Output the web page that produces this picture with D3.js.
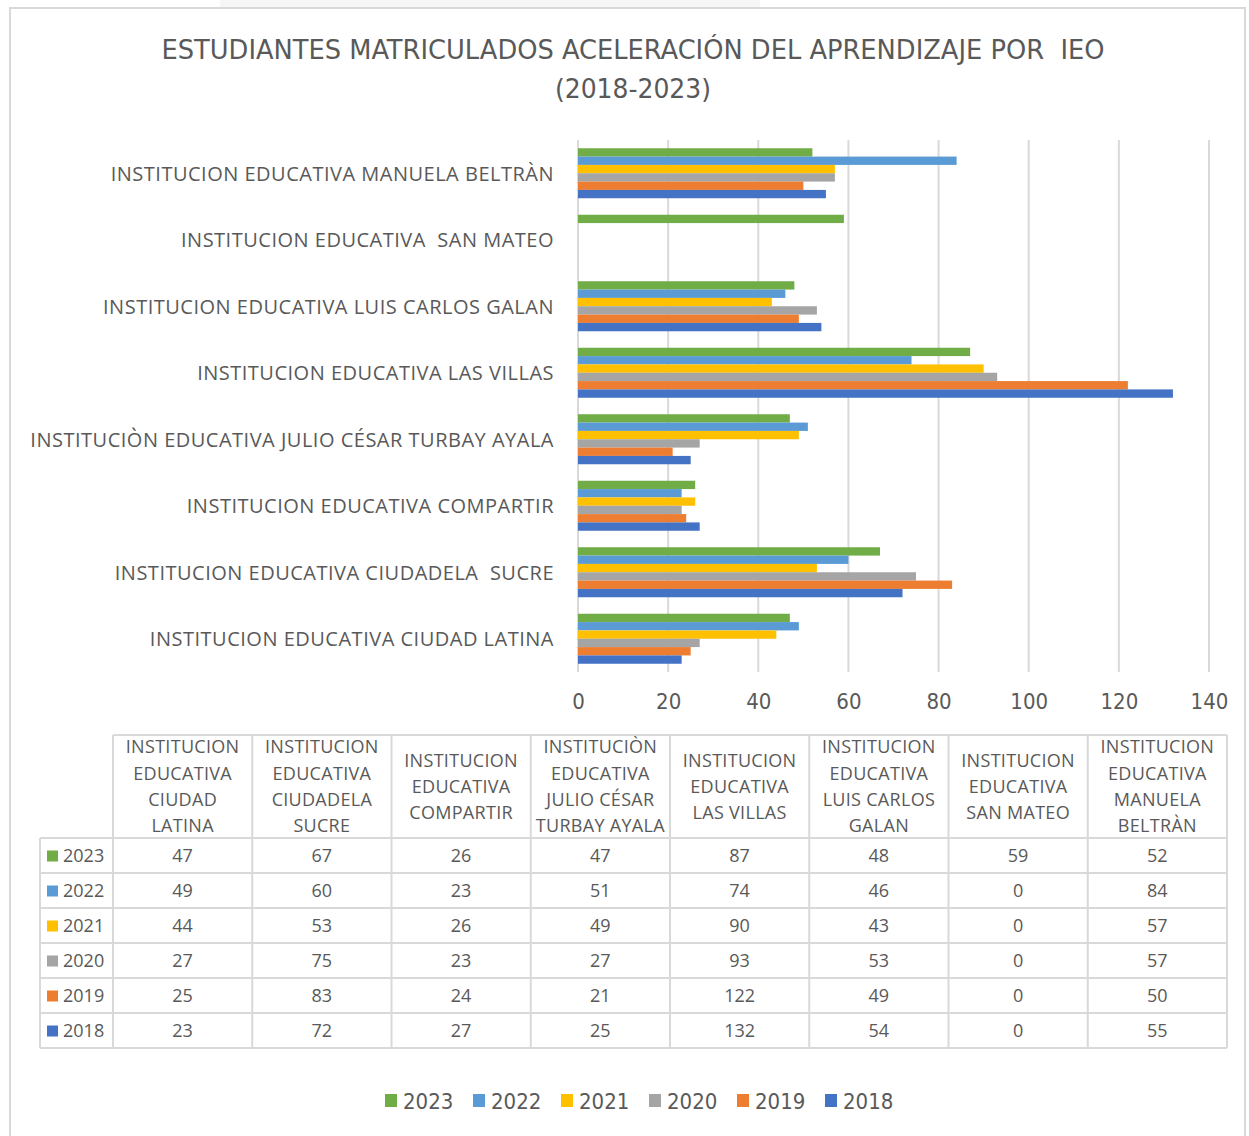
<!DOCTYPE html>
<html>
<head>
<meta charset="utf-8">
<script src="https://cdn.jsdelivr.net/npm/d3@7"></script>
<style>
  body { margin: 0; background: #fff; }
  text { white-space: pre; }
</style>
</head>
<body>
<svg id="chart"></svg>
<script>
// categories in table order (first one is drawn at the bottom of the bar chart)
const categories = [
  'INSTITUCION EDUCATIVA CIUDAD LATINA',
  'INSTITUCION EDUCATIVA CIUDADELA  SUCRE',
  'INSTITUCION EDUCATIVA COMPARTIR',
  'INSTITUCIÒN EDUCATIVA JULIO CÉSAR TURBAY AYALA',
  'INSTITUCION EDUCATIVA LAS VILLAS',
  'INSTITUCION EDUCATIVA LUIS CARLOS GALAN',
  'INSTITUCION EDUCATIVA  SAN MATEO',
  'INSTITUCION EDUCATIVA MANUELA BELTRÀN',
];
const headerLines = [
  ['INSTITUCION', 'EDUCATIVA', 'CIUDAD', 'LATINA'],
  ['INSTITUCION', 'EDUCATIVA', 'CIUDADELA', 'SUCRE'],
  ['INSTITUCION', 'EDUCATIVA', 'COMPARTIR'],
  ['INSTITUCIÒN', 'EDUCATIVA', 'JULIO CÉSAR', 'TURBAY AYALA'],
  ['INSTITUCION', 'EDUCATIVA', 'LAS VILLAS'],
  ['INSTITUCION', 'EDUCATIVA', 'LUIS CARLOS', 'GALAN'],
  ['INSTITUCION', 'EDUCATIVA', 'SAN MATEO'],
  ['INSTITUCION', 'EDUCATIVA', 'MANUELA', 'BELTRÀN'],
];
const years = ['2023', '2022', '2021', '2020', '2019', '2018'];
const v2023 = [47, 67, 26, 47, 87, 48, 59, 52];
const v2022 = [49, 60, 23, 51, 74, 46, 0, 84];
const v2021 = [44, 53, 26, 49, 90, 43, 0, 57];
const v2020 = [27, 75, 23, 27, 93, 53, 0, 57];
const v2019 = [25, 83, 24, 21, 122, 49, 0, 50];
const v2018 = [23, 72, 27, 25, 132, 54, 0, 55];
const yearColors = ['#70AD47', '#5B9BD5', '#FFC000', '#A5A5A5', '#ED7D31', '#4472C4'];
const xTicks = [0, 20, 40, 60, 80, 100, 120, 140];
const titleLines = ['ESTUDIANTES MATRICULADOS ACELERACIÓN DEL APRENDIZAJE POR  IEO', '(2018-2023)'];

const series = [v2023, v2022, v2021, v2020, v2019, v2018];

const width = 1249;
const height = 1136;
const textColor = '#595959';
const gridColor = '#d9d9d9';
const narrowFont = "'Liberation Sans Narrow', 'DejaVu Sans Condensed', 'Open Sans', sans-serif";
const bodyFont = "'Open Sans', 'Noto Sans', sans-serif";

const svg = d3.select('#chart').attr('width', width).attr('height', height);

// frame
svg.append('rect')
  .attr('x', 220).attr('y', 0).attr('width', 540).attr('height', 8)
  .attr('fill', '#f6f6f6');
svg.append('rect')
  .attr('x', 10).attr('y', 8).attr('width', width - 14).attr('height', height)
  .attr('fill', '#fff').attr('stroke', gridColor).attr('stroke-width', 2);

// Title
const title = svg.append('g').attr('fill', textColor).attr('font-family', narrowFont);
title.selectAll('text')
  .data(titleLines)
  .join('text')
  .attr('x', 633)
  .attr('y', (d, i) => 59 + i * 39)
  .attr('text-anchor', 'middle')
  .attr('font-size', 27)
  .attr('textLength', (d, i) => (i ? 156 : 943))
  .attr('lengthAdjust', 'spacingAndGlyphs')
  .text((d) => d);

// Scales
const plot = { left: 578, right: 1209, top: 140, bottom: 672 };
const xScale = d3.scaleLinear().domain([0, 140]).range([plot.left, plot.right]);
const yScale = d3.scaleBand().domain(categories).range([plot.bottom, plot.top]).paddingInner(0).paddingOuter(0);
const barBand = 50;
const yInner = d3.scaleBand().domain(years).range([0, barBand]);

// Grid
svg.append('g')
  .attr('stroke', gridColor)
  .attr('stroke-width', 2)
  .selectAll('line')
  .data(xTicks)
  .join('line')
  .attr('x1', (d) => xScale(d))
  .attr('x2', (d) => xScale(d))
  .attr('y1', plot.top)
  .attr('y2', plot.bottom);

// Bars
const groups = svg.append('g')
  .selectAll('g')
  .data(categories)
  .join('g')
  .attr('transform', (d) => `translate(0,${yScale(d) + (yScale.bandwidth() - barBand) / 2})`);

groups.selectAll('rect')
  .data((d, ci) => years.map((y, si) => ({ year: y, value: series[si][ci], color: yearColors[si] })))
  .join('rect')
  .attr('x', xScale(0))
  .attr('y', (d) => yInner(d.year))
  .attr('width', (d) => xScale(d.value) - xScale(0))
  .attr('height', yInner.bandwidth())
  .attr('fill', (d) => d.color);

// X axis
const xAxis = svg.append('g')
  .attr('transform', `translate(0,${plot.bottom})`)
  .call(d3.axisBottom(xScale).tickValues(xTicks).tickSize(0).tickPadding(21));
xAxis.select('.domain').remove();
xAxis.selectAll('text')
  .attr('fill', textColor)
  .attr('font-size', 22)
  .attr('font-family', narrowFont);

// Y axis labels
const yAxis = svg.append('g')
  .attr('transform', `translate(${plot.left},0)`)
  .call(d3.axisLeft(yScale).tickSize(0).tickPadding(24));
yAxis.select('.domain').remove();
yAxis.selectAll('text')
  .attr('fill', textColor)
  .attr('font-size', 20)
  .attr('letter-spacing', 0.5)
  .attr('dy', '0.37em')
  .attr('font-family', bodyFont);

// Data table
const table = { left: 40, colLeft: 113, right: 1227, headTop: 735, headBottom: 838, rowH: 35 };
const colScale = d3.scaleBand().domain(categories).range([table.colLeft, table.right]);
const rowScale = d3.scaleBand().domain(years).range([table.headBottom, table.headBottom + table.rowH * years.length]);
const tbl = svg.append('g').attr('font-family', bodyFont).attr('fill', textColor);

// header text
tbl.selectAll('g.head')
  .data(categories)
  .join('g')
  .attr('class', 'head')
  .each(function (d, i) {
    const lines = headerLines[i];
    const cx = colScale(d) + colScale.bandwidth() / 2;
    const mid = (table.headTop + table.headBottom) / 2;
    d3.select(this).selectAll('text')
      .data(lines)
      .join('text')
      .attr('x', cx)
      .attr('y', (l, j) => mid + (j - (lines.length - 1) / 2) * 26.3)
      .attr('dy', '0.35em')
      .attr('text-anchor', 'middle')
      .attr('font-size', 18)
      .attr('letter-spacing', 0.3)
      .text((l) => l);
  });

// row headers
const rowHead = tbl.selectAll('g.row')
  .data(years)
  .join('g')
  .attr('class', 'row')
  .attr('transform', (d) => `translate(0,${rowScale(d) + rowScale.bandwidth() / 2})`);
rowHead.append('rect')
  .attr('x', 47).attr('y', -5).attr('width', 11).attr('height', 11)
  .attr('fill', (d, i) => yearColors[i]);
rowHead.append('text')
  .attr('x', 63)
  .attr('dy', '0.35em')
  .attr('font-size', 18)
  .text((d) => d);

// cell values
rowHead.selectAll('text.val')
  .data((d, si) => categories.map((c, ci) => ({ c, v: series[si][ci] })))
  .join('text')
  .attr('class', 'val')
  .attr('x', (d) => colScale(d.c) + colScale.bandwidth() / 2)
  .attr('dy', '0.35em')
  .attr('text-anchor', 'middle')
  .attr('font-size', 18)
  .text((d) => d.v);

// table lines
const lines = tbl.append('g').attr('stroke', gridColor).attr('stroke-width', 2);
const tableBottom = table.headBottom + table.rowH * years.length;
lines.append('line')
  .attr('x1', table.colLeft).attr('x2', table.right)
  .attr('y1', table.headTop).attr('y2', table.headTop);
lines.selectAll('line.h')
  .data(d3.range(years.length + 1))
  .join('line')
  .attr('class', 'h')
  .attr('x1', table.left).attr('x2', table.right)
  .attr('y1', (i) => table.headBottom + i * table.rowH)
  .attr('y2', (i) => table.headBottom + i * table.rowH);
lines.selectAll('line.v')
  .data(categories.map((c) => colScale(c)).concat([table.right]))
  .join('line')
  .attr('class', 'v')
  .attr('x1', (d) => d).attr('x2', (d) => d)
  .attr('y1', table.headTop).attr('y2', tableBottom);
lines.append('line')
  .attr('x1', table.left).attr('x2', table.left)
  .attr('y1', table.headBottom).attr('y2', tableBottom);

// Legend
const legendStep = 88;
const legend = svg.append('g')
  .attr('transform', `translate(${633 - 248},1101)`)
  .attr('font-family', narrowFont);
const item = legend.selectAll('g')
  .data(years)
  .join('g')
  .attr('transform', (d, i) => `translate(${i * legendStep},0)`);
item.append('rect')
  .attr('x', 0).attr('y', -7).attr('width', 12).attr('height', 13)
  .attr('fill', (d, i) => yearColors[i]);
item.append('text')
  .attr('x', 18)
  .attr('dy', '0.35em')
  .attr('font-size', 22)
  .attr('fill', textColor)
  .text((d) => d);
</script>
</body>
</html>
